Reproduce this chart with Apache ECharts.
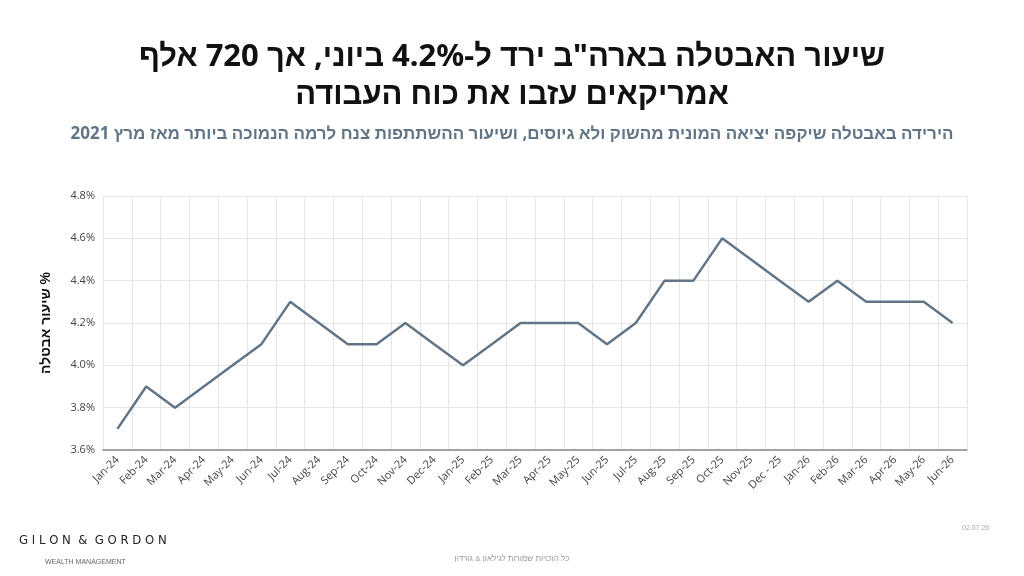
<!DOCTYPE html>
<html><head><meta charset="utf-8">
<script src="https://cdn.jsdelivr.net/npm/echarts@6/dist/echarts.min.js"></script>
<style>html,body{margin:0;padding:0;background:#fff}#c{width:1024px;height:576px}</style>
</head><body><div id="c"></div>
<script>
var months = ['Jan-24','Feb-24','Mar-24','Apr-24','May-24','Jun-24','Jul-24','Aug-24','Sep-24','Oct-24','Nov-24','Dec-24',
  'Jan-25','Feb-25','Mar-25','Apr-25','May-25','Jun-25','Jul-25','Aug-25','Sep-25','Oct-25','Nov-25','Dec - 25',
  'Jan-26','Feb-26','Mar-26','Apr-26','May-26','Jun-26'];
var rate = [3.7,3.9,3.8,3.9,4.0,4.1,4.3,4.2,4.1,4.1,4.2,4.1,
  4.0,4.1,4.2,4.2,4.2,4.1,4.2,4.4,4.4,4.6,4.5,4.4,
  4.3,4.4,4.3,4.3,4.3,4.2];

var chart = echarts.init(document.getElementById('c'));
var font = '"Open Sans", "Noto Sans", sans-serif';
chart.setOption({
  animation: false,
  title: [
    { text: 'שיעור האבטלה בארה"ב ירד ל-4.2% ביוני, אך 720 אלף\nאמריקאים עזבו את כוח העבודה',
      left: 'center', top: 33,
      textStyle: { fontSize: 31, fontWeight: 'bold', color: '#111', lineHeight: 38, fontFamily: 'Noto Sans, sans-serif' } },
    { text: 'הירידה באבטלה שיקפה יציאה המונית מהשוק ולא גיוסים, ושיעור ההשתתפות צנח לרמה הנמוכה ביותר מאז מרץ 2021',
      left: 'center', top: 121,
      textStyle: { fontSize: 17, fontWeight: 'bold', color: '#627586', fontFamily: 'Noto Sans, sans-serif' } },
    { text: 'כל הזכויות שמורות לגילאון & גורדון', left: 'center', top: 550,
      textStyle: { fontSize: 8, fontWeight: 'normal', color: '#999' } },
    { text: '02.07.26', left: 957, top: 520, textStyle: { fontSize: 7, fontWeight: 'normal', color: '#aaa' } },
    { text: 'G I L O N  &  G O R D O N', left: 14, top: 529,
      textStyle: { fontSize: 13, fontWeight: 'normal', color: '#222', fontFamily: 'DejaVu Sans Condensed' } },
    { text: 'WEALTH MANAGEMENT', left: 40, top: 554, textStyle: { fontSize: 7, fontWeight: 'normal', color: '#666' } }
  ],
  grid: { left: 103, right: 57, top: 196, bottom: 126 },
  xAxis: {
    type: 'category', data: months, boundaryGap: true,
    axisLine: { lineStyle: { color: '#888', width: 1.5 } },
    axisTick: { show: false },
    splitLine: { show: true, lineStyle: { color: '#e6e6e6' } },
    axisLabel: { rotate: 45, fontSize: 11, color: '#444', interval: 0, margin: 8, fontFamily: font }
  },
  yAxis: {
    type: 'value', min: 3.6, max: 4.8, interval: 0.2,
    name: 'שיעור אבטלה %', nameLocation: 'middle', nameGap: 50, nameRotate: 90,
    nameTextStyle: { fontSize: 14, fontWeight: 'bold', color: '#111' },
    axisLine: { show: false }, axisTick: { show: false },
    splitLine: { lineStyle: { color: '#e6e6e6' } },
    axisLabel: { fontSize: 11, color: '#444', fontFamily: font, formatter: function (v) { return v.toFixed(1) + '%'; } }
  },
  series: [{
    type: 'line', data: rate, symbol: 'none',
    lineStyle: { color: '#627586', width: 2.5 }
  }]
});
</script></body></html>
